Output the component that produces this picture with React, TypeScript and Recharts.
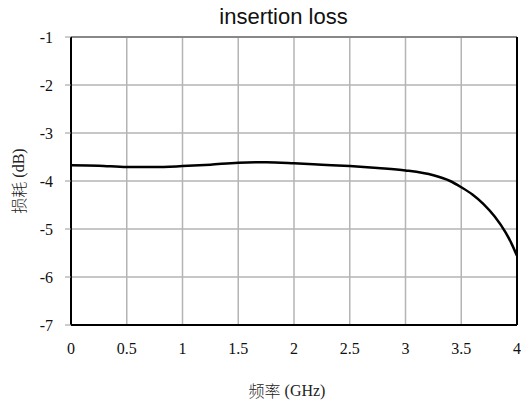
import {
  LineChart,
  Line,
  XAxis,
  YAxis,
  CartesianGrid,
  ReferenceLine,
  Label,
} from "recharts";

// frequency in GHz
const freq = [0, 0.25, 0.5, 0.75, 1, 1.25, 1.5, 1.75, 2, 2.25, 2.5, 2.75, 3, 3.25, 3.4, 3.5, 3.6, 3.7, 3.8, 3.9, 3.95, 4];
// insertion loss in dB
const loss = [-3.67, -3.68, -3.71, -3.71, -3.69, -3.66, -3.62, -3.61, -3.63, -3.66, -3.69, -3.73, -3.78, -3.88, -4.0, -4.13, -4.28, -4.48, -4.74, -5.08, -5.3, -5.56];

const xTicks = [0, 0.5, 1, 1.5, 2, 2.5, 3, 3.5, 4];
const yTicks = [-7, -6, -5, -4, -3, -2, -1];
const yMinorTicks = [-7, -6.5, -6, -5.5, -5, -4.5, -4, -3.5, -3, -2.5, -2, -1.5, -1];

const data = freq.map((f, i) => ({ f, loss: loss[i] }));

const serif = "'Liberation Serif', 'DejaVu Serif', serif";
const cjk = "'Noto Sans CJK SC'";
const gridColor = "#b4b4b4";

export default function App() {
  return (
    <div
      style={{
        position: "absolute",
        left: 0,
        top: 0,
        width: 521,
        height: 401,
        background: "#fff",
      }}
    >
      <div
        style={{
          position: "absolute",
          left: 0,
          width: 567,
          top: 4,
          textAlign: "center",
          fontFamily: "'Liberation Sans', Arial, sans-serif",
          fontSize: 22,
          lineHeight: "26px",
          color: "#111",
        }}
      >
        insertion loss
      </div>
      <LineChart
        width={521}
        height={401}
        data={data}
        margin={{ top: 37, right: 4, bottom: 0, left: 0 }}
        style={{ position: "absolute", left: 0, top: 0 }}
      >
        <CartesianGrid yAxisId="major" stroke={gridColor} strokeWidth={1.5} />
        <XAxis
          dataKey="f"
          type="number"
          domain={[0, 4]}
          ticks={xTicks}
          height={76}
          tickLine={false}
          tickMargin={12}
          axisLine={{ stroke: "#000", strokeWidth: 2 }}
          tick={{ fill: "#111", fontSize: 16, style: { fontFamily: serif } }}
        >
          <Label
            content={() => (
              <text x={287} y={390} textAnchor="middle" dominantBaseline="central" fill="#222" fontSize={16}>
                <tspan style={{ fontFamily: cjk, fontWeight: 300 }}>频率</tspan>
                <tspan style={{ fontFamily: serif }}> (GHz)</tspan>
              </text>
            )}
          />
        </XAxis>
        <YAxis
          yAxisId="major"
          type="number"
          domain={[-7, -1]}
          ticks={yTicks}
          width={71}
          tickSize={6}
          tickMargin={12}
          tickLine={{ stroke: "#999" }}
          axisLine={{ stroke: "#000", strokeWidth: 2 }}
          tick={{ fill: "#111", fontSize: 16, style: { fontFamily: serif } }}
        >
          <Label
            content={() => (
              <text
                x={18}
                y={181}
                transform="rotate(-90 18 181)"
                textAnchor="middle"
                dominantBaseline="central"
                fill="#222"
                fontSize={16}
              >
                <tspan style={{ fontFamily: cjk, fontWeight: 300 }}>损耗</tspan>
                <tspan style={{ fontFamily: serif }}> (dB)</tspan>
              </text>
            )}
          />
        </YAxis>
        <YAxis
          yAxisId="minor"
          type="number"
          domain={[-7, -1]}
          ticks={yMinorTicks}
          width={0}
          tickSize={6}
          tick={false}
          tickLine={{ stroke: "#999" }}
          axisLine={false}
        />
        <ReferenceLine yAxisId="major" y={-1} stroke="#888" strokeWidth={2} />
        <ReferenceLine yAxisId="major" x={4} stroke="#000" strokeWidth={2} />
        <Line
          yAxisId="major"
          type="monotone"
          dataKey="loss"
          stroke="#000"
          strokeWidth={2.5}
          dot={false}
          isAnimationActive={false}
        />
      </LineChart>
    </div>
  );
}
